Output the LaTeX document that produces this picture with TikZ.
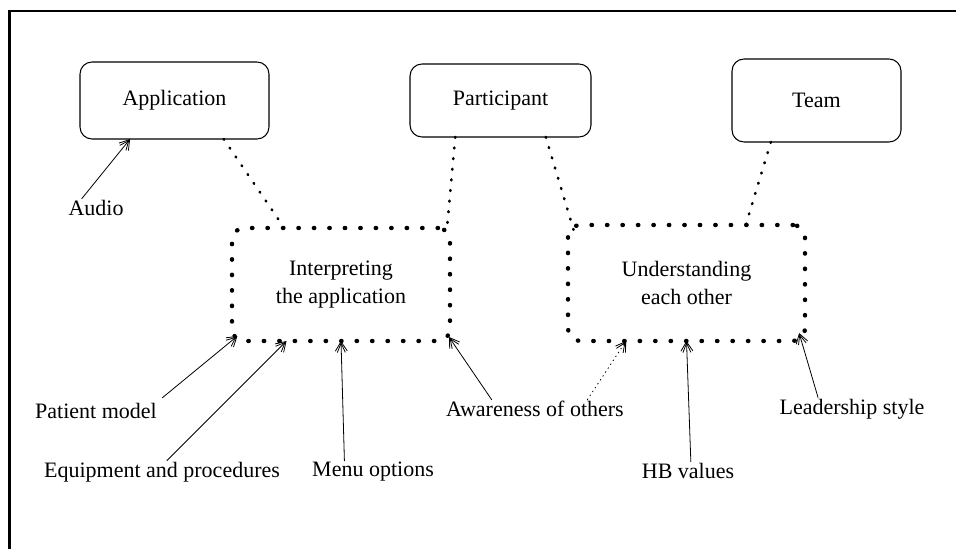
\documentclass[tikz,border=0pt]{standalone}
\usepackage{fontspec}
\setmainfont{LiberationSerif}[Extension=.ttf, UprightFont=*-Regular, BoldFont=*-Bold, ItalicFont=*-Italic]
\usetikzlibrary{arrows.meta,calc}
\begin{document}
\begin{tikzpicture}[x=0.75pt,y=-0.75pt,
  every node/.style={font=\fontsize{16.5}{21.5}\selectfont, outer sep=0pt},
  entity/.style={draw, line width=0.8pt, rounded corners=9pt, inner sep=0pt, align=center},
  theme/.style={draw, line width=3.3pt, line cap=round, dash pattern=on 0.3pt off 11.3pt, rounded corners=9pt, inner sep=0pt, align=center},
  label/.style={inner sep=1pt},
  link/.style={line width=2pt, line cap=round, dash pattern=on 0.6pt off 7.4pt},
  influence/.style={line width=0.6pt, -{Straight Barb[length=7pt,width=6pt,sep=-7pt]Straight Barb[length=7pt,width=9pt]}},
  weakinfluence/.style={influence, dash pattern=on 1pt off 2.5pt}]
\useasboundingbox (0,0) rectangle (956,549);
\draw[line width=1.6pt] (9.5,549) -- (9.5,11) -- (956,11);

\node[entity, minimum width=141.75pt, minimum height=57.75pt] (app) at (174.5,100.5) {Application};
\node[entity, minimum width=135.75pt, minimum height=54.75pt] (part) at (500.5,100.5) {Participant};
\node[entity, minimum width=126.75pt, minimum height=62.25pt] (team) at (816.5,100.5) {Team};

\node[theme, minimum width=163.5pt, minimum height=84.75pt] (interp) at (341,284.5) {Interpreting\\the application};
\node[theme, minimum width=177.75pt, minimum height=87pt] (under) at (686.5,283) {Understanding\\each other};

\node[label] (audio) at (96,208) {Audio};
\node[label] (patient) at (96,411) {Patient model};
\node[label] (equip) at (162,472) {Equipment and procedures};
\node[label] (menu) at (373,472) {Menu options};
\node[label] (aware) at (535,409) {Awareness of others};
\node[label] (hb) at (688,471) {HB values};
\node[label] (lead) at (852,409) {Leadership style};

% dotted relations
\draw[link] ($(app.south west)!0.76!(app.south east)$) -- ($(interp.north west)!0.24!(interp.north east)$);
\draw[link] ($(part.south west)!0.25!(part.south east)$) -- ($(interp.north west)!0.985!(interp.north east)+(0,3)$);
\draw[link] ($(part.south west)!0.75!(part.south east)$) -- ($(under.north west)!0.025!(under.north east)+(0,6)$);
\draw[link] ($(team.south west)!0.23!(team.south east)$) -- ($(under.north west)!0.75!(under.north east)$);

% influences
\draw[influence] ($(audio.north west)!0.25!(audio.north east)$) -- ($(app.south west)!0.265!(app.south east)$);
\draw[influence] ($(patient.north west)!1.0!(patient.north east)+(4,-4)$) -- ($(interp.south west)!0.025!(interp.south east)+(0,-5)$);
\draw[influence] ($(equip.north west)!0.52!(equip.north east)$) -- ($(interp.south west)!0.25!(interp.south east)$);
\draw[influence] ($(menu.north west)!0.27!(menu.north east)$) -- ($(interp.south west)!0.5!(interp.south east)$);
\draw[influence] ($(aware.north west)!0.26!(aware.north east)$) -- ($(interp.south east)+(-1,-4)$);
\draw[weakinfluence] ($(aware.north west)!0.79!(aware.north east)$) -- ($(under.south west)!0.245!(under.south east)$);
\draw[influence] ($(hb.north west)!0.53!(hb.north east)$) -- ($(under.south west)!0.5!(under.south east)$);
\draw[influence] ($(lead.north west)!0.27!(lead.north east)$) -- ($(under.south west)!0.975!(under.south east)+(0,-8)$);
\end{tikzpicture}
\end{document}
